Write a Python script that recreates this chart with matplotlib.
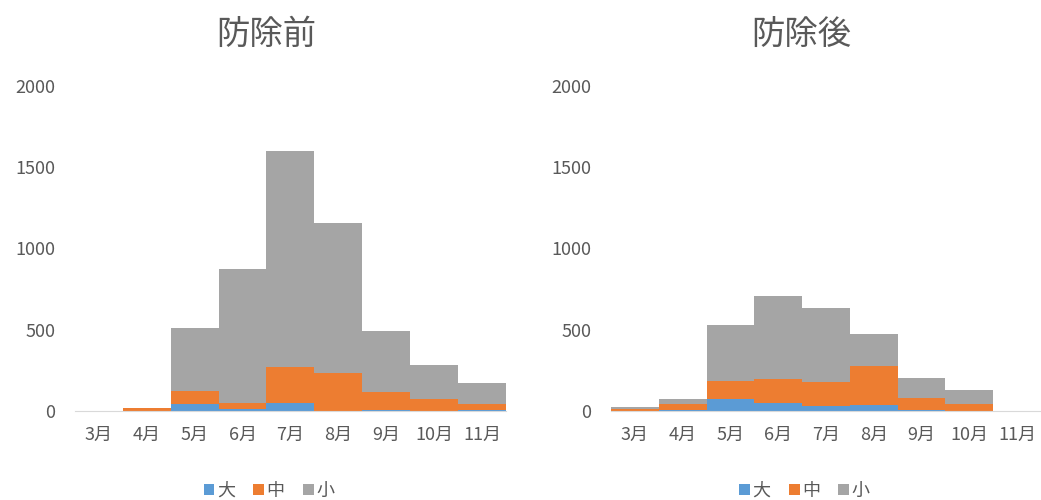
import numpy as np
import matplotlib.pyplot as plt
from matplotlib.patches import Patch

plt.rcParams['font.family'] = ['Noto Sans CJK JP', 'DejaVu Sans']

months = ["3月", "4月", "5月", "6月", "7月", "8月", "9月", "10月", "11月"]
series = ["大", "中", "小"]

# 防除前
before_large = [0, 2, 43, 12, 50, 3, 8, 2, 5]
before_mid = [0, 14, 82, 38, 220, 230, 107, 72, 38]
before_small = [3, 3, 385, 823, 1330, 923, 377, 209, 129]

# 防除後
after_large = [2, 5, 72, 47, 31, 37, 7, 3, 0]
after_mid = [13, 38, 115, 150, 149, 240, 71, 42, 0]
after_small = [10, 30, 342, 510, 451, 194, 123, 84, 3]

colors = ["#5B9BD5", "#ED7D31", "#A5A5A5"]
text_color = "#595959"


def _draw(ax, title, large, mid, small):
    x = np.arange(len(months))
    bottom = np.zeros(len(months))
    for vals, c in zip([large, mid, small], colors):
        vals = np.array(vals, dtype=float)
        ax.bar(x, vals, width=1.0, bottom=bottom, color=c, linewidth=0)
        bottom += vals
    ax.set_xlim(-0.5, len(months) - 0.5)
    ax.set_ylim(0, 2000)
    ax.set_yticks([0, 500, 1000, 1500, 2000])
    ax.set_xticks(x)
    ax.set_xticklabels(months)
    ax.tick_params(axis="both", length=0, labelsize=13, colors=text_color)
    ax.tick_params(axis="y", pad=14)
    ax.tick_params(axis="x", pad=11)
    for s in ["top", "right", "left"]:
        ax.spines[s].set_visible(False)
    ax.spines["bottom"].set_color("#D9D9D9")
    ax.set_title(title, fontsize=24, color=text_color, x=0.443, pad=30)
    handles = [Patch(facecolor=c, label=s) for c, s in zip(colors, series)]
    ax.legend(handles=handles, loc="upper center", bbox_to_anchor=(0.45, -0.185),
              ncol=3, frameon=False, fontsize=13, handlelength=0.6, handleheight=0.6,
              handletextpad=0.15, columnspacing=1.0, labelcolor=text_color,
              borderaxespad=0.2)


fig = plt.figure(figsize=(10.41, 5.0), dpi=100)
ax1 = fig.add_axes([0.072, 0.178, 0.414, 0.65])
ax2 = fig.add_axes([0.587, 0.178, 0.413, 0.65])
_draw(ax1, "防除前", before_large, before_mid, before_small)
_draw(ax2, "防除後", after_large, after_mid, after_small)
fig.savefig("out.png", dpi=100)
